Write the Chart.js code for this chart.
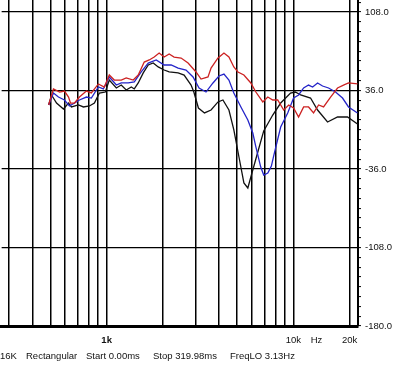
<!DOCTYPE html>
<html>
<head>
<meta charset="utf-8">
<script src="https://cdn.jsdelivr.net/npm/chart.js@4"></script>
<style>
  body { margin: 0; background: #fff; }
  canvas { display: block; }
</style>
</head>
<body>
<canvas id="respChart" width="400" height="365"></canvas>
<script>
// frequency (Hz) / level (dB)
const redFreq = [489,519,560,594,625,640,673,715,779,828,903,972,1033,1099,1197,1273,1388,1476,1589,1690,1797,1910,2032,2161,2297,2504,2729,3010,3201,3489,3622,3946,4246,4515,4797,5045,5430,5916,6294,6855,7292,7750,8238,8870,9436,10020,10660,11340,12050,12820,13640,14500,15810,17230,18540,19720,22030];
const redDb   = [22.7,37.4,34.6,35.5,30,24.5,24.5,30,35.5,33.7,42,39.2,50.2,45.6,45.6,47.5,45.6,50.2,62.1,64,66.7,70.4,66.7,69.5,66.7,65.8,61.2,53,46.5,48.4,56.6,65.8,70.4,66.7,57.6,53,50.2,42.9,34.6,25.5,30,27.3,27.3,18.1,22.7,19.9,11.7,20.9,20.9,15.4,22.7,20.9,30,38.3,41,42.9,42];

const blueFreq = [489,519,552,594,632,673,715,779,828,903,960,1033,1127,1197,1305,1406,1531,1670,1842,2032,2215,2414,2661,2901,3124,3404,3709,3993,4246,4515,4797,5234,5700,6061,6294,6683,6934,7292,7620,7847,8547,9320,10020,10660,11340,12050,12670,13470,14320,15420,16810,18320,19720,22030];
const blueDb   = [22.7,33.7,30,27.3,21.8,24.5,27.3,30,29.1,39.2,37.4,48.4,41,42.9,42.9,43.8,53,61.2,64,59.4,59.4,56.6,54.8,48.4,38.3,34.6,42.9,49.3,51.1,45.6,33.7,20.9,8.9,-3,-15.8,-34.2,-41.5,-39.7,-33.3,-23.8,2.5,15.4,29.1,31.9,38.3,41,39.2,42.9,40.1,38.3,34.6,29.1,20.9,15.4];

const blackFreq = [489,507,539,587,625,648,706,751,809,860,914,984,1033,1127,1197,1273,1355,1406,1476,1570,1670,1775,1888,2032,2161,2414,2599,2831,2930,3100,3340,3622,3946,4193,4515,4797,5110,5430,5700,5916,6490,6934,7750,8547,9650,10240,10930,12350,13470,15230,17230,19480,22030];
const blackDb   = [22.7,31.9,24.5,19,24.5,20.9,22.7,20.9,21.8,24.5,33.7,34.6,45.6,38.3,41,36.5,39.2,37.4,42.9,52.1,59.4,61.2,57.6,54.8,53,52.1,50.2,41,34.6,19.9,15.4,18.1,25.5,27.3,18.1,-0.2,-25,-48.8,-53.4,-43.3,-18.6,-1.1,13.5,24.5,33.7,34.6,31.9,29.1,18.1,7.1,11.7,11.7,5.3];

// axes
const yMajor = [-180,-108,-36,36,108];
const yMinorStep = 9;
const yTop = 117;
const gridFreqs = [300,400,500,600,700,800,900,1000,2000,3000,4000,5000,6000,7000,8000,9000,10000,20000];
const freqLabels = {1000:'1k', 10000:'10k', 20000:'20k'};
const unitFreq = 13300;
const unitLabel = 'Hz';
const statusItems = ['16K','Rectangular','Start 0.00ms','Stop 319.98ms','FreqLO 3.13Hz'];

const FONT = 'Liberation Sans, Arial, sans-serif';

function toPoints(fs, ds){
    return fs.map((f,i) => ({x:f, y:ds[i]}));
}

const statusLine = {
    id:'statusLine',
    afterDraw(chart){
        const ctx = chart.ctx;
        const xs = [0,26,86,153,230];
        ctx.save();
        ctx.fillStyle = '#111';
        ctx.font = '9.5px ' + FONT;
        ctx.textBaseline = 'middle';
        ctx.textAlign = 'left';
        statusItems.forEach((t,i) => ctx.fillText(t, xs[i], 356));
        ctx.restore();
    }
};

new Chart(document.getElementById('respChart'), {
    type:'line',
    data:{
        datasets:[
            { label:'red', data:toPoints(redFreq, redDb), borderColor:'#cc2222' },
            { label:'blue', data:toPoints(blueFreq, blueDb), borderColor:'#2424c8' },
            { label:'black', data:toPoints(blackFreq, blackDb), borderColor:'#111111' }
        ]
    },
    options:{
        responsive:false,
        animation:false,
        layout:{ padding:0 },
        elements:{
            point:{ radius:0 },
            line:{ borderWidth:1.3, tension:0, fill:false }
        },
        plugins:{ legend:{ display:false }, tooltip:{ enabled:false } },
        scales:{
            x:{
                type:'logarithmic',
                min:274, max:22170,
                afterBuildTicks:(s) => {
                    s.ticks = gridFreqs.concat([unitFreq]).sort((a,b)=>a-b).map(v => ({value:v}));
                },
                afterFit:(s) => { s.height = 39; },
                ticks:{
                    autoSkip:false, maxRotation:0, padding:9, color:'#111',
                    font:(c) => ({ family:FONT, size:9.5, weight: c.tick && c.tick.value === 1000 ? 'bold' : 'normal' }),
                    callback:(v) => v === unitFreq ? unitLabel : (freqLabels[v] || '')
                },
                grid:{
                    drawTicks:false, lineWidth:1.5,
                    color:(c) => c.tick && c.tick.value === unitFreq ? 'rgba(0,0,0,0)' : '#000'
                },
                border:{ display:true, color:'#000', width:3 }
            },
            y:{
                type:'linear', position:'right',
                min:-180, max:119,
                afterBuildTicks:(s) => {
                    const t = [];
                    for(let v = -180; v <= yTop; v += yMinorStep) t.push({value:v});
                    s.ticks = t;
                },
                afterFit:(s) => { s.width = 42; s.paddingTop = 0; },
                ticks:{
                    autoSkip:false, padding:4, color:'#111',
                    font:{ family:FONT, size:9.5 },
                    callback:(v) => yMajor.includes(v) ? v.toFixed(1) : ''
                },
                grid:{
                    lineWidth:1.2, tickLength:3, tickColor:'#000', tickWidth:1,
                    color:(c) => c.tick && yMajor.includes(c.tick.value) ? '#000' : 'rgba(0,0,0,0)'
                },
                border:{ display:true, color:'#000', width:2 }
            }
        }
    },
    plugins:[statusLine]
});
</script>
</body>
</html>
